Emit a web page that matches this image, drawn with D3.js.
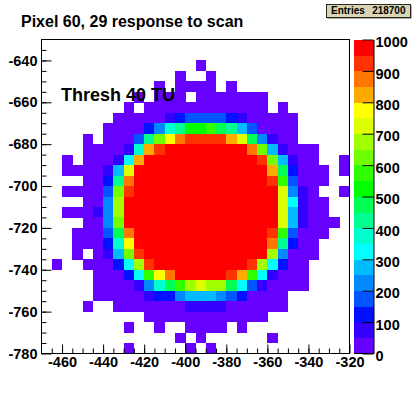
<!DOCTYPE html>
<html>
<head>
<meta charset="utf-8">
<script src="https://cdn.jsdelivr.net/npm/d3@7"></script>
<style>
  html, body { margin: 0; padding: 0; background: #fff; }
  svg { display: block; }
  text { font-family: "Liberation Sans", Arial, sans-serif; font-weight: bold; fill: #000; }
</style>
</head>
<body>
<svg id="chart" width="418" height="393"></svg>
<script>
const titleText = "Pixel 60, 29 response to scan";
const noteText = "Thresh 40 TU";
const statsLabel = "Entries";
const statsValue = "218700";

const xTicks = [-460, -440, -420, -400, -380, -360, -340, -320];
const yTicks = [-640, -660, -680, -700, -720, -740, -760, -780];
const zTicks = [0, 100, 200, 300, 400, 500, 600, 700, 800, 900, 1000];

// 20 contour bands, low to high
const palette = [
  "#6600ff", "#3300ff", "#0011ff", "#0055ff", "#0088ff",
  "#00bbff", "#00ffff", "#00ffd0", "#00ff90", "#00ff55",
  "#00ff00", "#30ff00", "#70ff00", "#a0ff00", "#ddff00",
  "#ffff00", "#ffaa00", "#ff7700", "#ff3300", "#ff0000"
];

// cell contents, top row first, left column first; 0 = empty bin
const counts = [
  [0,0,0,0,0,0,0,0,0,0,0,0,0,0,0,0,0,0,0,0,0,0,0,0,0,0,0,0,0,0],
  [0,0,0,0,0,0,0,0,0,0,0,0,0,0,0,0,0,0,0,0,0,0,0,0,0,0,0,0,0,0],
  [0,0,0,0,0,0,0,0,0,0,0,0,0,0,0,25,0,0,0,0,0,0,0,0,0,0,0,0,0,0],
  [0,0,0,0,0,0,0,0,0,0,0,0,0,25,0,0,25,0,0,0,0,0,0,0,0,0,0,0,0,0],
  [0,0,0,0,0,0,0,0,0,0,0,25,0,25,25,25,25,0,25,0,0,0,0,0,0,0,0,0,0,0],
  [0,0,0,0,0,0,0,0,0,25,0,25,25,25,0,25,25,25,25,25,25,25,0,0,0,0,0,0,0,0],
  [0,0,0,0,0,0,0,0,25,0,25,25,25,25,25,25,25,25,25,25,25,25,0,25,0,0,0,0,0,0],
  [0,0,0,0,0,0,0,25,25,25,25,25,75,125,175,175,175,175,125,75,25,25,25,25,25,0,0,0,0,0],
  [0,0,0,0,0,0,25,25,25,25,125,225,375,425,525,525,575,475,425,275,175,25,25,25,25,0,0,0,0,0],
  [0,0,0,0,25,0,25,25,25,175,425,625,775,875,925,925,925,925,825,725,475,225,75,25,25,0,0,0,0,0],
  [0,0,0,0,25,25,25,25,75,375,825,925,975,975,975,975,975,975,975,975,875,625,275,75,25,25,25,0,0,0],
  [0,0,25,0,25,25,25,75,325,825,975,975,975,975,975,975,975,975,975,975,975,925,625,275,75,25,25,0,0,25],
  [0,0,25,25,25,25,75,275,725,975,975,975,975,975,975,975,975,975,975,975,975,975,825,475,125,25,25,25,0,25],
  [0,0,0,0,25,25,125,425,875,975,975,975,975,975,975,975,975,975,975,975,975,975,925,575,175,25,25,25,0,0],
  [0,0,25,25,25,25,175,625,925,975,975,975,975,975,975,975,975,975,975,975,975,975,975,725,225,75,25,0,0,25],
  [0,0,0,0,25,25,225,675,975,975,975,975,975,975,975,975,975,975,975,975,975,975,975,725,325,75,25,25,0,0],
  [0,0,25,25,25,75,225,675,975,975,975,975,975,975,975,975,975,975,975,975,975,975,975,725,275,75,25,25,0,0],
  [0,0,0,0,25,25,225,625,975,975,975,975,975,975,975,975,975,975,975,975,975,975,975,725,275,75,25,25,25,0],
  [0,0,0,25,25,25,175,475,875,975,975,975,975,975,975,975,975,975,975,975,975,975,925,575,175,25,25,25,0,0],
  [0,0,0,25,25,25,125,375,775,975,975,975,975,975,975,975,975,975,975,975,975,975,875,425,125,25,25,0,0,0],
  [0,0,0,25,0,25,75,275,625,925,975,975,975,975,975,975,975,975,975,975,975,975,675,225,25,25,25,0,0,0],
  [0,25,0,0,25,25,25,125,325,675,925,975,975,975,975,975,975,975,975,975,925,675,325,125,25,25,0,0,0,0],
  [0,0,0,0,0,25,25,25,125,325,575,775,875,975,975,975,975,975,925,825,575,325,75,25,25,25,0,0,0,0],
  [0,0,0,0,0,25,25,25,25,75,225,375,475,575,675,725,675,675,475,325,175,75,25,25,25,25,0,0,0,0],
  [0,0,0,0,0,25,25,25,25,25,75,125,125,225,275,275,275,225,175,125,25,25,25,25,0,0,0,0,0,0],
  [0,0,0,0,25,0,0,25,25,25,25,25,25,25,75,75,75,75,25,25,25,25,25,25,0,0,0,0,0,0],
  [0,0,0,0,0,0,0,0,0,0,25,25,25,25,25,25,25,25,25,25,25,25,0,0,0,0,0,0,0,0],
  [0,0,0,0,0,0,0,0,25,0,0,25,0,0,25,25,25,25,0,25,0,0,0,0,0,0,0,0,0,0],
  [0,0,0,0,0,0,0,0,0,0,0,0,0,25,0,25,0,0,0,0,0,0,25,0,0,0,0,0,0,0],
  [0,0,0,0,0,0,0,0,25,0,0,0,0,0,25,0,25,0,0,0,0,0,0,0,0,0,0,0,0,0]
];

const svg = d3.select("#chart");
const plot = { left: 41.5, right: 349.5, top: 39.5, bottom: 353.5 };
const bar = { left: 354, right: 373.5 };

const x = d3.scaleLinear().domain([-470, -320]).range([plot.left, plot.right]);
const y = d3.scaleLinear().domain([-780, -630]).range([plot.bottom, plot.top]);
const z = d3.scaleLinear().domain([0, 1000]).range([plot.bottom, plot.top]);
const color = d3.scaleQuantize().domain([0, 1000]).range(palette);

const binSize = 5;
const cells = counts.flatMap((row, r) => row.map((v, c) => ({
  x0: -470 + c * binSize,
  y1: -630 - r * binSize,
  v: v
}))).filter(d => d.v > 0);

svg.append("g")
  .selectAll("rect")
  .data(cells)
  .enter()
  .append("rect")
  .attr("x", d => x(d.x0))
  .attr("y", d => y(d.y1))
  .attr("width", d => x(d.x0 + binSize) - x(d.x0) + 0.3)
  .attr("height", d => y(d.y1 - binSize) - y(d.y1) + 0.3)
  .attr("fill", d => color(d.v))
  .attr("shape-rendering", "crispEdges");

// frame
svg.append("rect")
  .attr("x", plot.left)
  .attr("y", plot.top)
  .attr("width", plot.right - plot.left)
  .attr("height", plot.bottom - plot.top)
  .attr("fill", "none")
  .attr("stroke", "#000");

const minorX = d3.range(-465, -320, binSize);
const minorY = d3.range(-775, -630, binSize);

const xMinor = svg.append("g")
  .attr("transform", `translate(0,${plot.bottom})`)
  .call(d3.axisBottom(x).tickValues(minorX).tickSize(-5).tickFormat(""));
xMinor.select(".domain").remove();

svg.append("g")
  .attr("transform", `translate(0,${plot.bottom})`)
  .call(d3.axisBottom(x).tickValues(xTicks).tickSize(-9).tickPadding(3).tickFormat(d => String(d)))
  .call(g => g.select(".domain").remove())
  .selectAll("text")
  .attr("font-size", "14.5px")
  .attr("font-family", "Liberation Sans");

const yMinor = svg.append("g")
  .attr("transform", `translate(${plot.left},0)`)
  .call(d3.axisLeft(y).tickValues(minorY).tickSize(-5).tickFormat(""));
yMinor.select(".domain").remove();

svg.append("g")
  .attr("transform", `translate(${plot.left},0)`)
  .call(d3.axisLeft(y).tickValues(yTicks).tickSize(-10).tickPadding(4).tickFormat(d => String(d)))
  .call(g => g.select(".domain").remove())
  .selectAll("text")
  .attr("font-size", "14.5px")
  .attr("font-family", "Liberation Sans");

// colour bar
svg.append("g")
  .selectAll("rect")
  .data(palette)
  .enter()
  .append("rect")
  .attr("x", bar.left)
  .attr("y", (d, i) => z((i + 1) * 50))
  .attr("width", bar.right - bar.left)
  .attr("height", (d, i) => z(i * 50) - z((i + 1) * 50) + 0.3)
  .attr("fill", d => d)
  .attr("shape-rendering", "crispEdges");

svg.append("g")
  .attr("transform", `translate(${bar.right},0)`)
  .call(d3.axisRight(z).tickValues(zTicks).tickSizeInner(-11).tickSizeOuter(0).tickPadding(2).tickFormat(d => String(d)))
  .selectAll("text")
  .attr("dy", "0.5em")
  .attr("font-size", "14.5px")
  .attr("font-family", "Liberation Sans");

svg.append("line")
  .attr("x1", bar.left)
  .attr("x2", bar.right)
  .attr("y1", plot.bottom)
  .attr("y2", plot.bottom)
  .attr("stroke", "#000");

// title, note
svg.append("text")
  .attr("x", 21)
  .attr("y", 27)
  .attr("font-size", "16px")
  .text(titleText);

svg.append("text")
  .attr("x", 61)
  .attr("y", 101)
  .attr("font-size", "18px")
  .text(noteText);

// stats box
svg.append("rect")
  .attr("x", 327.5)
  .attr("y", 5.5)
  .attr("width", 84)
  .attr("height", 13)
  .attr("fill", "#5c5740");

svg.append("rect")
  .attr("x", 326.5)
  .attr("y", 4.5)
  .attr("width", 84)
  .attr("height", 13)
  .attr("fill", "#d9d4b4")
  .attr("stroke", "#2a2820");

svg.append("text")
  .attr("x", 331)
  .attr("y", 14)
  .attr("font-size", "10px")
  .text(statsLabel);

svg.append("text")
  .attr("x", 405.5)
  .attr("y", 14)
  .attr("text-anchor", "end")
  .attr("font-size", "10px")
  .text(statsValue);
</script>
</body>
</html>
